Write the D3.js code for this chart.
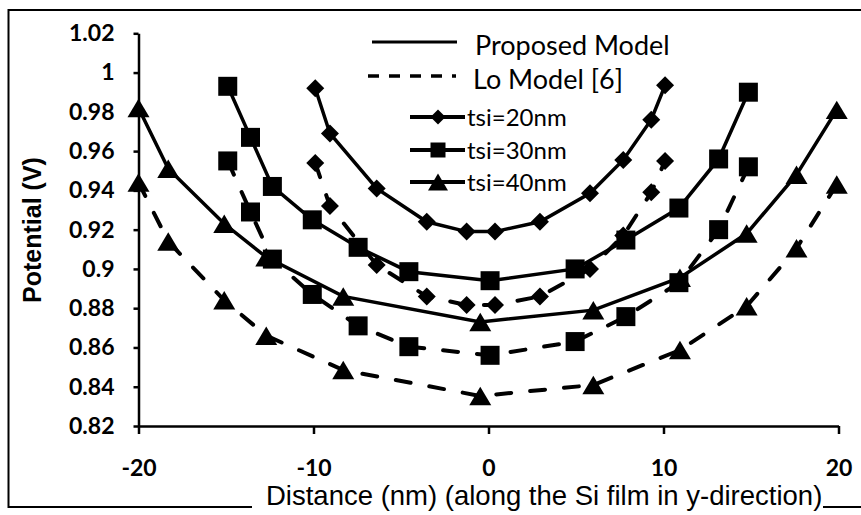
<!DOCTYPE html>
<html>
<head>
<meta charset="utf-8">
<script src="https://cdn.jsdelivr.net/npm/d3@7"></script>
<style>
  html, body { margin: 0; padding: 0; background: #fff; }
  svg { display: block; }
</style>
</head>
<body>
<svg id="chart" width="861" height="515"></svg>
<script>
// Positions along the Si film (nm) and surface potential (V) per film thickness
const xTsi20 = [-9.9, -9.06, -6.39, -3.53, -1.25, 0.37, 2.94, 5.8, 7.7, 9.3, 10.09];
const proposedTsi20 = [0.992, 0.969, 0.941, 0.924, 0.919, 0.919, 0.924, 0.9385, 0.9555, 0.976, 0.9935];
const loTsi20 = [0.954, 0.932, 0.902, 0.886, 0.8816, 0.8816, 0.886, 0.900, 0.917, 0.939, 0.955];

const xTsi30 = [-14.9, -13.6, -12.35, -10.07, -7.45, -4.55, 0.09, 4.95, 7.85, 10.88, 13.15, 14.85];
const proposedTsi30 = [0.993, 0.967, 0.942, 0.925, 0.911, 0.8986, 0.894, 0.900, 0.9147, 0.931, 0.956, 0.990];
const loTsi30 = [0.955, 0.929, 0.905, 0.887, 0.871, 0.8604, 0.856, 0.863, 0.8757, 0.893, 0.920, 0.952];

const xTsi40 = [-20, -18.3, -15.1, -12.7, -8.3, -0.47, 5.99, 10.94, 14.75, 17.6, 19.9];
const proposedTsi40 = [0.982, 0.951, 0.923, 0.906, 0.886, 0.873, 0.879, 0.8955, 0.918, 0.948, 0.981];
const loTsi40 = [0.944, 0.914, 0.884, 0.866, 0.8485, 0.8353, 0.8409, 0.8587, 0.881, 0.9105, 0.943];

const seriesNames = ["tsi=20nm", "tsi=30nm", "tsi=40nm"];
const modelNames = ["Proposed Model", "Lo Model [6]"];

const xTicks = [-20, -10, 0, 10, 20];
const yTicks = [0.82, 0.84, 0.86, 0.88, 0.9, 0.92, 0.94, 0.96, 0.98, 1, 1.02];
const yTickLabels = ["0.82", "0.84", "0.86", "0.88", "0.9", "0.92", "0.94", "0.96", "0.98", "1", "1.02"];

const xTitle = "Distance (nm) (along the Si film in y-direction)";
const yTitle = "Potential (V)";

// Marker shapes; the size argument is the marker width in pixels
const diamond = { draw(ctx, s) { const r = s / 2; ctx.moveTo(0, -r); ctx.lineTo(r, 0); ctx.lineTo(0, r); ctx.lineTo(-r, 0); ctx.closePath(); } };
const square = { draw(ctx, s) { const r = s / 2; ctx.rect(-r, -r, s, s); } };
const triangle = { draw(ctx, s) { const w = s / 2, h = s * 0.42; ctx.moveTo(0, -h); ctx.lineTo(w, h); ctx.lineTo(-w, h); ctx.closePath(); } };

const series = [
  { name: seriesNames[0], xs: xTsi20, proposed: proposedTsi20, lo: loTsi20, shape: diamond, size: 18, legendSize: 15 },
  { name: seriesNames[1], xs: xTsi30, proposed: proposedTsi30, lo: loTsi30, shape: square, size: 19, legendSize: 15 },
  { name: seriesNames[2], xs: xTsi40, proposed: proposedTsi40, lo: loTsi40, shape: triangle, size: 22, legendSize: 20 }
];

const svg = d3.select("#chart");
const ink = "#000";
const tickFont = "Lato, 'Open Sans', sans-serif";
const titleFont = "'Liberation Sans', Arial, sans-serif";

const x = d3.scaleLinear().domain([-20, 20]).range([138.5, 838.5]);
const y = d3.scaleLinear().domain([0.82, 1.02]).range([426, 33.3]);

// Outer frame (open at the right, broken by the axis title at the bottom)
const frame = svg.append("g").attr("stroke", ink).attr("stroke-width", 2).attr("fill", "none");
frame.append("path").attr("d", "M861,10 H8.5 V507 H252");
frame.append("path").attr("d", "M823,507 H861");

// Axes
const yAxis = d3.axisLeft(y).tickValues(yTicks)
  .tickFormat((d, i) => yTickLabels[i]).tickSize(5).tickSizeOuter(0).tickPadding(19);
const xAxis = d3.axisBottom(x).tickValues(xTicks)
  .tickFormat(d => String(d)).tickSize(8).tickSizeOuter(0).tickPadding(26);

const gy = svg.append("g").attr("transform", `translate(${x(-20)},0)`).call(yAxis);
const gx = svg.append("g").attr("transform", `translate(0,${y(0.82)})`).call(xAxis);
[gx, gy].forEach(g => {
  g.selectAll("path, line").attr("stroke", ink).attr("stroke-width", 2.5);
  g.selectAll("text").attr("fill", ink).attr("font-family", tickFont)
    .attr("font-weight", 700).attr("font-size", 23);
});

// Curves and markers
const line = d3.line().x(d => x(d[0])).y(d => y(d[1]));
const plot = svg.append("g");

series.forEach(s => {
  const prop = s.xs.map((v, i) => [v, s.proposed[i]]);
  const lo = s.xs.map((v, i) => [v, s.lo[i]]);
  plot.append("path").datum(lo).attr("d", line)
    .attr("fill", "none").attr("stroke", ink).attr("stroke-width", 4)
    .attr("stroke-dasharray", "15,19").attr("stroke-linecap", "round");
  plot.append("path").datum(prop).attr("d", line)
    .attr("fill", "none").attr("stroke", ink).attr("stroke-width", 3.5);
  const sym = d3.symbol().type(s.shape).size(s.size);
  [prop, lo].forEach(pts => {
    plot.append("g").selectAll("path").data(pts).join("path")
      .attr("d", sym)
      .attr("transform", d => `translate(${x(d[0])},${y(d[1])})`)
      .attr("fill", ink);
  });
});

// Legend
const legend = svg.append("g");
legend.append("line").attr("x1", 372).attr("x2", 457).attr("y1", 42).attr("y2", 42)
  .attr("stroke", ink).attr("stroke-width", 3);
legend.append("line").attr("x1", 368).attr("x2", 456).attr("y1", 76).attr("y2", 76)
  .attr("stroke", ink).attr("stroke-width", 3.5).attr("stroke-dasharray", "11,10");
legend.append("text").attr("x", 475).attr("y", 46).attr("dy", "0.35em")
  .attr("font-family", tickFont).attr("font-size", 27)
  .attr("fill", ink).text(modelNames[0]);
legend.append("text").attr("x", 473).attr("y", 80).attr("dy", "0.35em")
  .attr("font-family", tickFont).attr("font-size", 27)
  .attr("fill", ink).text(modelNames[1]);

const rowY = [117, 150, 182];
series.forEach((s, i) => {
  const g = legend.append("g").attr("transform", `translate(0,${rowY[i]})`);
  g.append("line").attr("x1", 410).attr("x2", 465).attr("stroke", ink).attr("stroke-width", 4);
  g.append("path").attr("d", d3.symbol().type(s.shape).size(s.legendSize)())
    .attr("transform", "translate(438,0)").attr("fill", ink);
  g.append("text").attr("x", 467).attr("y", 1).attr("dy", "0.35em")
    .attr("font-family", tickFont).attr("font-size", 24).attr("fill", ink).text(s.name);
});

// Axis titles
svg.append("text").attr("transform", "translate(41,230) rotate(-90)")
  .attr("text-anchor", "middle").attr("font-family", titleFont)
  .attr("font-weight", 700).attr("font-size", 25).attr("fill", ink).text(yTitle);
svg.append("text").attr("x", 266).attr("y", 505)
  .attr("font-family", titleFont)
  .attr("font-size", 27.5).attr("fill", ink).text(xTitle);
</script>
</body>
</html>
